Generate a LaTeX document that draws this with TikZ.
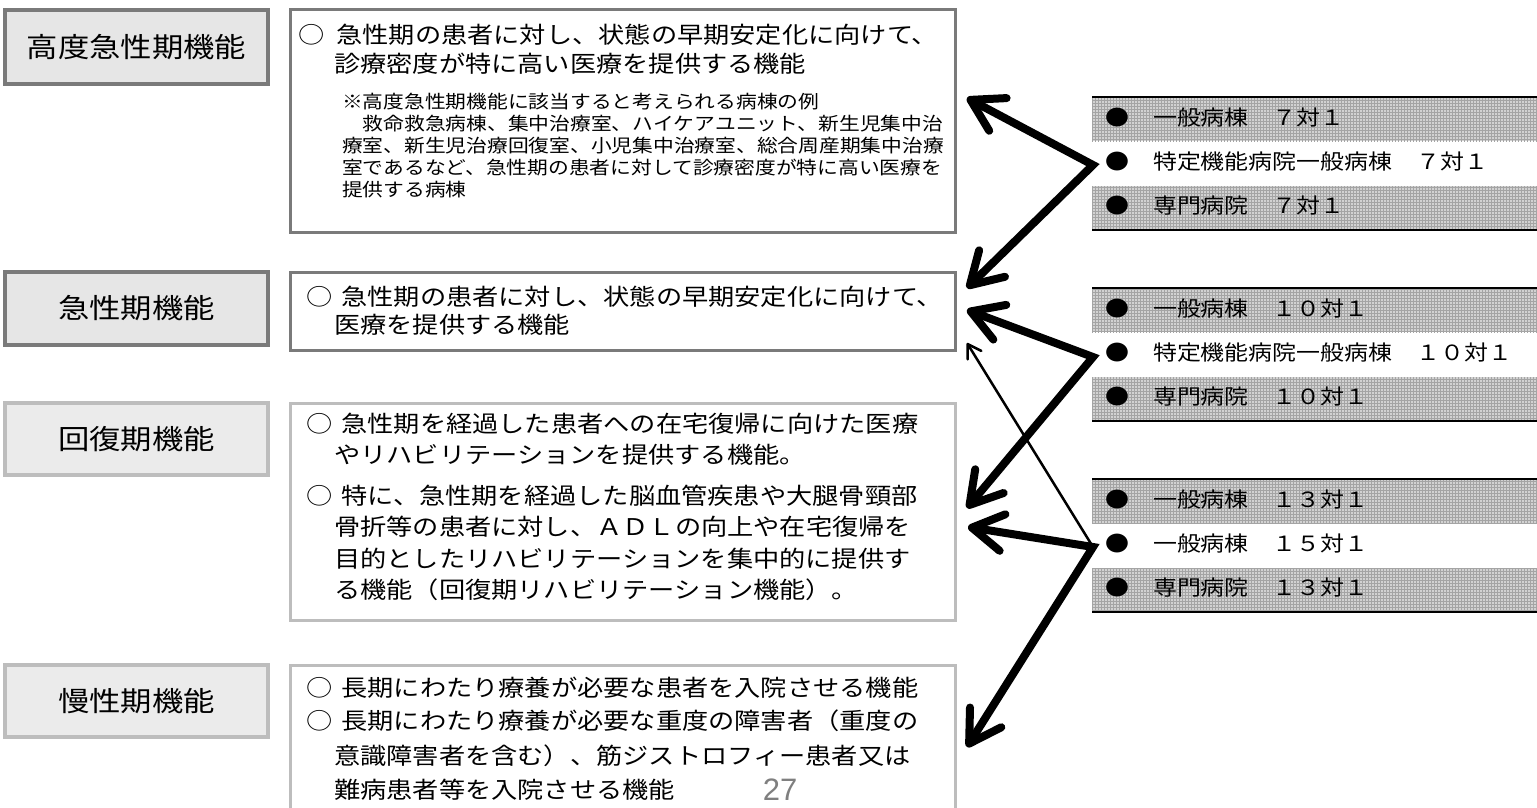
\documentclass[tikz,border=0pt]{standalone}
\usepackage{fontspec}
\newfontfamily\jp[FakeStretch=1.14]{Noto Sans CJK JP}
\newfontfamily\numfont{Liberation Sans}
\usetikzlibrary{arrows.meta,patterns}
\definecolor{darkbd}{HTML}{7A7A7A}
\definecolor{lightbd}{HTML}{BDBDBD}
\definecolor{labfill}{HTML}{E6E6E6}
\definecolor{labfillb}{HTML}{EBEBEB}
\definecolor{bandfill}{HTML}{D2D2D2}
\definecolor{bandline}{HTML}{A4A4A4}
\definecolor{pgnum}{HTML}{7F7F7F}
\begin{document}
\begin{tikzpicture}[x=1pt,y=-1pt,
  labbox/.style={line width=3.5pt, inner sep=0, minimum width=263pt},
  bigbox/.style={line width=3pt, inner sep=0, minimum width=665pt},
  labtext/.style={inner sep=0, font=\jp\fontsize{27.5}{30}\selectfont},
  maintext/.style={anchor=west, inner sep=0, font=\jp\fontsize{23}{28}\selectfont},
  smalltext/.style={anchor=west, inner sep=0, font=\jp\fontsize{18.2}{22}\selectfont},
  listtext/.style={anchor=west, inner sep=0, font=\jp\fontsize{21}{24}\selectfont},
  bandrow/.style={fill=bandfill},
  bandpat/.style={pattern=grid, pattern color=bandline},
  groupline/.style={line width=2.2pt, black},
  bigarrow/.style={line width=8pt, line join=miter, black,
    arrows={Straight Barb[length=31pt,width=37pt,round]-Straight Barb[length=31pt,width=37pt,round]}},
  thinarrow/.style={line width=2.5pt, black,
    arrows={-Straight Barb[length=13pt,width=16pt,round]}}
]
\useasboundingbox (0,0) rectangle (1537,808);
\fill[white] (0,0) rectangle (1537,808);

% ---------- left label boxes ----------
\node[labbox, draw=darkbd, fill=labfill, minimum height=74pt] (L1) at (136.5,47) {};
\node[labtext] (L1t) at (L1.center) {高度急性期機能};
\node[labbox, draw=darkbd, fill=labfill, minimum height=73pt] (L2) at (136.5,308.5) {};
\node[labtext] (L2t) at (L2.center) {急性期機能};
\node[labbox, draw=lightbd, fill=labfillb, minimum height=72pt] (L3) at (136.5,439) {};
\node[labtext] (L3t) at (L3.center) {回復期機能};
\node[labbox, draw=lightbd, fill=labfillb, minimum height=72pt] (L4) at (136.5,701) {};
\node[labtext] (L4t) at (L4.center) {慢性期機能};

% ---------- description boxes ----------
\node[bigbox, draw=darkbd, minimum height=222pt] (B1) at (622.5,121) {};
\node[bigbox, draw=darkbd, minimum height=78pt] (B2) at (622.5,311) {};
\node[bigbox, draw=lightbd, minimum height=217pt] (B3) at (622.5,511.5) {};
\node[bigbox, draw=lightbd, minimum height=170pt] (B4) at (622.5,750) {};

% box 1 text
\node[maintext] (b1a) at (298,35) {○\hspace{12pt}急性期の患者に対し、状態の早期安定化に向けて、};
\node[maintext] (b1b) at (334,64) {診療密度が特に高い医療を提供する機能};
\node[smalltext] (b1c) at (342,102) {※高度急性期機能に該当すると考えられる病棟の例};
\node[smalltext] (b1d) at (342,124) {　救命救急病棟、集中治療室、ハイケアユニット、新生児集中治};
\node[smalltext] (b1e) at (342,146) {療室、新生児治療回復室、小児集中治療室、総合周産期集中治療};
\node[smalltext] (b1f) at (342,168) {室であるなど、急性期の患者に対して診療密度が特に高い医療を};
\node[smalltext] (b1g) at (342,190) {提供する病棟};

% box 2 text
\node[maintext] (b2a) at (306,297) {○\hspace{9pt}急性期の患者に対し、状態の早期安定化に向けて、};
\node[maintext] (b2b) at (334,325) {医療を提供する機能};

% box 3 text
\node[maintext] (b3a) at (306,424) {○\hspace{9pt}急性期を経過した患者への在宅復帰に向けた医療};
\node[maintext] (b3b) at (334,455) {やリハビリテーションを提供する機能。};
\node[maintext] (b3c) at (306,496) {○\hspace{9pt}特に、急性期を経過した脳血管疾患や大腿骨頸部};
\node[maintext] (b3d) at (334,527) {骨折等の患者に対し、ＡＤＬの向上や在宅復帰を};
\node[maintext] (b3e) at (334,559) {目的としたリハビリテーションを集中的に提供す};
\node[maintext] (b3f) at (334,590) {る機能（回復期リハビリテーション機能）。};

% box 4 text
\node[maintext] (b4a) at (306,688) {○\hspace{9pt}長期にわたり療養が必要な患者を入院させる機能};
\node[maintext] (b4b) at (306,721) {○\hspace{9pt}長期にわたり療養が必要な重度の障害者（重度の};
\node[maintext] (b4c) at (334,756) {意識障害者を含む）、筋ジストロフィー患者又は};
\node[maintext] (b4d) at (334,790) {難病患者等を入院させる機能};
\node[inner sep=0, font=\numfont\fontsize{31}{34}\selectfont, text=pgnum] (pg) at (780,790) {27};

% ---------- right lists ----------
\foreach \g in {97,288,479}{
  \fill[bandrow] (1092,\g) rectangle (1540,\g+44);
  \fill[bandpat] (1092,\g) rectangle (1540,\g+44);
  \fill[bandrow] (1092,\g+89) rectangle (1540,\g+133);
  \fill[bandpat] (1092,\g+89) rectangle (1540,\g+133);
  \draw[groupline] (1092,\g) -- (1540,\g);
  \draw[groupline] (1092,\g+133) -- (1540,\g+133);
}
\node[listtext] (r1a) at (1105,118) {●　一般病棟　７対１};
\node[listtext] (r1b) at (1105,162) {●　特定機能病院一般病棟　７対１};
\node[listtext] (r1c) at (1105,206) {●　専門病院　７対１};
\node[listtext] (r2a) at (1105,309) {●　一般病棟　１０対１};
\node[listtext] (r2b) at (1105,353) {●　特定機能病院一般病棟　１０対１};
\node[listtext] (r2c) at (1105,397) {●　専門病院　１０対１};
\node[listtext] (r3a) at (1105,500) {●　一般病棟　１３対１};
\node[listtext] (r3b) at (1105,544) {●　一般病棟　１５対１};
\node[listtext] (r3c) at (1105,588) {●　専門病院　１３対１};

% ---------- arrows ----------
\coordinate (V1) at (1093,165);
\coordinate (T1a) at (967,98);
\coordinate (T1b) at (967,288);
\coordinate (V2) at (1093,357);
\coordinate (T2a) at (967,310);
\coordinate (T2b) at (967,508);
\coordinate (V3) at (1093,547);
\coordinate (T3a) at (968,527);
\coordinate (T3b) at (967,747);
\coordinate (T3c) at (967,343);

\draw[thinarrow] (V3) -- (T3c);
\draw[bigarrow] (T1a) -- (V1) -- (T1b);
\draw[bigarrow] (T2a) -- (V2) -- (T2b);
\draw[bigarrow] (T3a) -- (V3) -- (T3b);
\end{tikzpicture}
\end{document}
